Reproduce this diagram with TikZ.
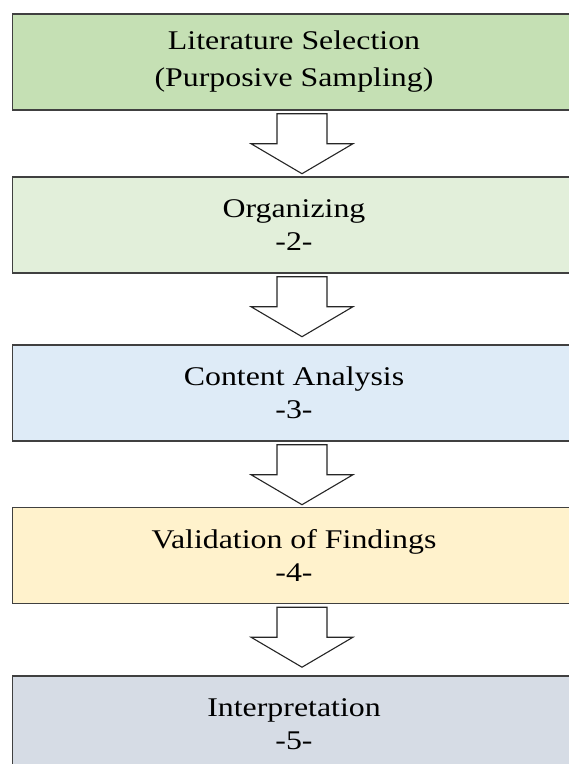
\documentclass[tikz,border=0pt]{standalone}
\usepackage{fontspec}
\setmainfont{Liberation Serif}[FakeStretch=1.18]
\usetikzlibrary{calc}

\definecolor{stepgreen}{HTML}{C5E0B4}
\definecolor{steplightgreen}{HTML}{E2EFDA}
\definecolor{stepblue}{HTML}{DEEBF7}
\definecolor{stepyellow}{HTML}{FFF2CC}
\definecolor{stepgray}{HTML}{D6DCE5}

\begin{document}
\begin{tikzpicture}[
			x=1pt,y=1pt,
			stepbox/.style={
				draw=black!75,
				line width=1.4pt,
				minimum width=563pt,
				minimum height=96pt,
				align=center,
				inner sep=0pt,
				font=\fontsize{27}{33}\selectfont
			},
			blockarrow/.style={
				draw=black!85,
				fill=white,
				line width=1.1pt,
				line join=miter
			}
			]

			\useasboundingbox (0,0) rectangle (569,-764);
			\clip (0,0) rectangle (569,-764);

			% stages, top to bottom
			\node[stepbox,fill=stepgreen,font=\fontsize{27}{37}\selectfont] (lit) at (294,-62)
			{Literature Selection\\(Purposive Sampling)};
			\node[stepbox,fill=steplightgreen] (org) at (294,-225)
			{Organizing\\-2-};
			\node[stepbox,fill=stepblue] (content) at (294,-393)
			{Content Analysis\\-3-};
			\node[stepbox,fill=stepyellow] (valid) at (294,-555.5)
			{Validation of Findings\\-4-};
			\node[stepbox,fill=stepgray] (interp) at (294,-724)
			{Interpretation\\-5-};

			% hollow block arrows hanging under each stage
			\draw[blockarrow] ([xshift=-17pt,yshift=-3pt]lit.south) -- ++(0,-30)
				-- ++(-26,0) -- ++(51,-30) -- ++(51,30) -- ++(-26,0) -- ++(0,30) -- cycle;
			\draw[blockarrow] ([xshift=-17pt,yshift=-3pt]org.south) -- ++(0,-30)
				-- ++(-26,0) -- ++(51,-30) -- ++(51,30) -- ++(-26,0) -- ++(0,30) -- cycle;
			\draw[blockarrow] ([xshift=-17pt,yshift=-3pt]content.south) -- ++(0,-30)
				-- ++(-26,0) -- ++(51,-30) -- ++(51,30) -- ++(-26,0) -- ++(0,30) -- cycle;
			\draw[blockarrow] ([xshift=-17pt,yshift=-3pt]valid.south) -- ++(0,-30)
				-- ++(-26,0) -- ++(51,-30) -- ++(51,30) -- ++(-26,0) -- ++(0,30) -- cycle;

		\end{tikzpicture}
\end{document}
